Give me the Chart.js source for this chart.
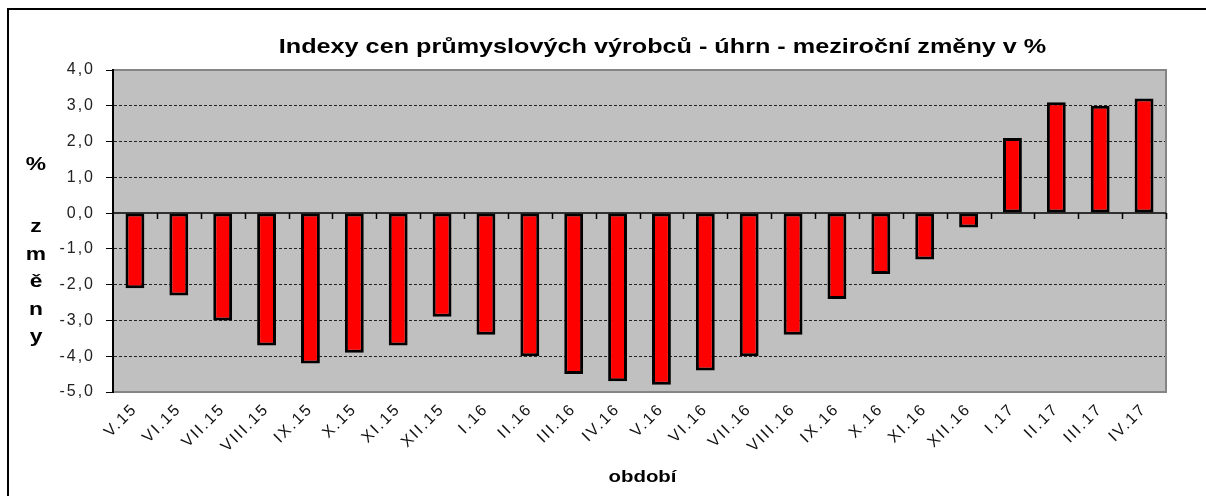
<!DOCTYPE html>
<html>
<head>
<meta charset="utf-8">
<title>Indexy cen průmyslových výrobců</title>
<script src="https://cdn.jsdelivr.net/npm/chart.js@4.4.1/dist/chart.umd.min.js"></script>
<style>
  html, body { margin: 0; padding: 0; background: #fff; }
  #wrap { position: relative; width: 1206px; height: 496px; overflow: hidden; }
  #frame { position: absolute; left: 7px; top: 8px; width: 1300px; height: 600px;
           border-left: 2px solid #000; border-top: 2px solid #000; }
  canvas { position: absolute; left: 0; top: 0; }
</style>
</head>
<body>
<div id="wrap">
  <div id="frame"></div>
  <canvas id="chart" width="1206" height="496"></canvas>
</div>
<script>
// data
const obdobi = ['V.15', 'VI.15', 'VII.15', 'VIII.15', 'IX.15', 'X.15', 'XI.15', 'XII.15',
                'I.16', 'II.16', 'III.16', 'IV.16', 'V.16', 'VI.16', 'VII.16', 'VIII.16',
                'IX.16', 'X.16', 'XI.16', 'XII.16', 'I.17', 'II.17', 'III.17', 'IV.17'];
const zmeny = [-2.1, -2.3, -3.0, -3.7, -4.2, -3.9, -3.7, -2.9,
               -3.4, -4.0, -4.5, -4.7, -4.8, -4.4, -4.0, -3.4,
               -2.4, -1.7, -1.3, -0.4, 2.1, 3.1, 3.0, 3.2];
const yMin = -5;
const yMax = 4;
const yStep = 1;

const titulek = 'Indexy cen průmyslových výrobců - úhrn - meziroční změny v %';
const osaYznak = '%';
const osaYpismena = ['z', 'm', 'ě', 'n', 'y'];
const osaXtitulek = 'období';

const FONT = '"Liberation Sans", Arial, sans-serif';
const STRETCH = 1.2; // Excel export je vodorovně roztažený

// roztažený text (titulky, popisek osy y)
function stretchedText(ctx, text, cx, y) {
    ctx.save();
    ctx.scale(STRETCH, 1);
    ctx.fillText(text, cx / STRETCH, y);
    ctx.restore();
}

// pozadí, rámeček grafu, nulová osa a popisky
const plotFrame = {
    id: 'plotFrame',
    beforeUpdate(chart) {
        chart.ctx.letterSpacing = '2px';
    },
    beforeDraw(chart) {
        const { ctx, chartArea: a } = chart;
        ctx.letterSpacing = '2px';
        ctx.save();
        ctx.fillStyle = '#c0c0c0';
        ctx.fillRect(a.left, a.top, a.right - a.left, a.bottom - a.top);
        ctx.restore();
    },
    afterDatasetsDraw(chart) {
        const { ctx, chartArea: a, scales: { x, y } } = chart;
        ctx.save();
        // šedý rámeček nahoře, vpravo, dole
        ctx.strokeStyle = '#858585';
        ctx.lineWidth = 2;
        ctx.beginPath();
        ctx.moveTo(a.left + 1, a.top);
        ctx.lineTo(a.right, a.top);
        ctx.lineTo(a.right, a.bottom);
        ctx.lineTo(a.left + 1, a.bottom);
        ctx.stroke();

        // nulová osa s tickami mezi kategoriemi
        const y0 = y.getPixelForValue(0);
        const half = (x.getPixelForValue(1) - x.getPixelForValue(0)) / 2;
        ctx.strokeStyle = '#000';
        ctx.lineWidth = 1.5;
        ctx.beginPath();
        ctx.moveTo(a.left, y0);
        ctx.lineTo(a.right, y0);
        for (let i = 1; i <= obdobi.length; i++) {
            const px = Math.round(x.getPixelForValue(i - 1) + half) + 0.5;
            ctx.moveTo(px, y0);
            ctx.lineTo(px, y0 + 6);
        }
        ctx.stroke();
        ctx.restore();
    },
    afterDraw(chart) {
        const { ctx, chartArea: a } = chart;
        ctx.save();
        ctx.letterSpacing = '0px';
        ctx.fillStyle = '#000';
        ctx.textAlign = 'center';
        ctx.textBaseline = 'alphabetic';
        // titulek
        ctx.font = 'bold 21px ' + FONT;
        stretchedText(ctx, titulek, (a.left + a.right) / 2 + 23, 53);
        // popisek osy x
        ctx.font = 'bold 17px ' + FONT;
        stretchedText(ctx, osaXtitulek, (a.left + a.right) / 2 + 3, 482);
        // popisek osy y
        ctx.font = 'bold 19px ' + FONT;
        stretchedText(ctx, osaYznak, 36, 170);
        osaYpismena.forEach((p, i) => {
            stretchedText(ctx, p, 36, 232 + i * 27.5);
        });
        ctx.restore();
    }
};

new Chart(document.getElementById('chart'), {
    type: 'bar',
    data: {
        labels: obdobi,
        datasets: [{
            data: zmeny,
            backgroundColor: '#ff0000',
            borderColor: '#000000',
            borderWidth: 3,
            borderSkipped: false,
            barPercentage: 0.43,
            categoryPercentage: 1.0
        }]
    },
    options: {
        responsive: false,
        animation: false,
        events: [],
        layout: { padding: { top: 70, right: 40, left: 0, bottom: 0 } },
        plugins: {
            legend: { display: false },
            tooltip: { enabled: false },
            title: { display: false }
        },
        scales: {
            x: {
                afterFit(scale) { scale.height = 104; },
                grid: { display: false, drawTicks: false },
                border: { display: false },
                ticks: {
                    autoSkip: false,
                    minRotation: 45,
                    maxRotation: 45,
                    padding: 8,
                    color: '#111',
                    font: { family: FONT, size: 16 }
                },
                title: { display: false }
            },
            y: {
                min: yMin,
                max: yMax,
                afterFit(scale) { scale.width = 113; },
                grid: {
                    color: ctx => {
                        const v = ctx.tick ? ctx.tick.value : null;
                        return (v === 0 || v === yMin || v === yMax) ? 'rgba(0,0,0,0)' : '#222';
                    },
                    lineWidth: 1,
                    tickColor: '#000',
                    tickLength: 7,
                    tickBorderDash: []
                },
                border: { display: true, color: '#000', width: 2, dash: [3, 2] },
                ticks: {
                    stepSize: yStep,
                    padding: 11,
                    color: '#222',
                    font: { family: FONT, size: 16 },
                    callback: v => v.toFixed(1).replace('.', ',')
                }
            }
        }
    },
    plugins: [plotFrame]
});
</script>
</body>
</html>
